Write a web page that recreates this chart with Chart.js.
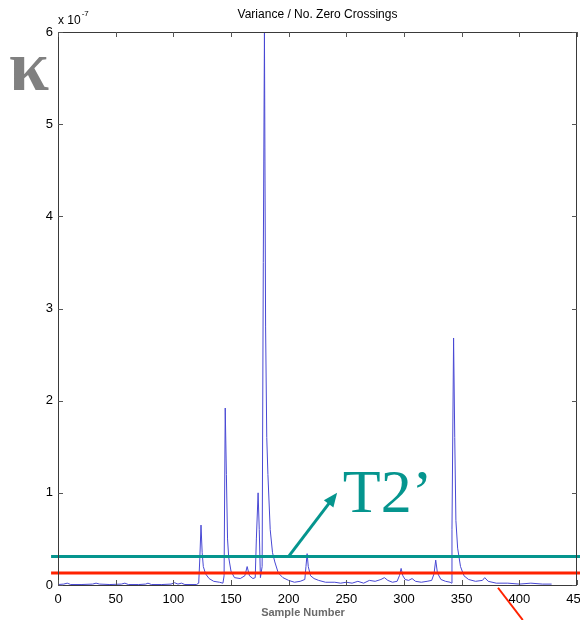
<!DOCTYPE html>
<html>
<head>
<meta charset="utf-8">
<script src="https://cdn.jsdelivr.net/npm/chart.js@4"></script>
<style>
  html, body { margin: 0; padding: 0; background: #fff; }
  #wrap { width: 580px; height: 620px; position: relative; }
</style>
</head>
<body>
<div id="wrap"><canvas id="chart"></canvas></div>
<script>
// sample number / variance-per-zero-crossing (x 1e-7)
const sampleNo = [0, 5, 8, 11, 20, 30, 33, 36, 45, 55, 58, 61, 70, 76, 78, 81, 90, 98, 101, 104, 107, 110, 120,
    122, 123, 124, 125, 126, 128, 131, 135, 140, 143, 144, 145, 146, 147, 148, 150, 153, 158, 162, 164, 166, 169,
    171, 172, 173.5, 174.5, 175.5, 177, 178, 179, 180, 181, 182, 184, 186, 188, 191, 195, 200, 205, 210, 214, 215,
    216, 217, 219, 222, 226, 232, 240, 245, 250, 255, 260, 265, 270, 275, 280, 283, 286, 290, 294, 296, 297.5, 299,
    301, 304, 307, 310, 315, 320, 324, 326, 327.5, 329, 332, 336, 340, 341.3, 341.6, 343, 344, 345, 346.5, 349,
    352, 356, 362, 368, 370, 373, 380, 390, 400, 410, 420, 428];
const variance = [0.005, 0.01, 0.02, 0.005, 0.005, 0.01, 0.02, 0.01, 0.005, 0.01, 0.02, 0.005, 0.005, 0.01, 0.02,
    0.005, 0.005, 0.01, 0.025, 0.01, 0.02, 0.005, 0.005,
    0.02, 0.3, 0.65, 0.35, 0.2, 0.12, 0.07, 0.04, 0.03, 0.02, 0.1, 1.92, 1.2, 0.5, 0.3, 0.15, 0.08, 0.07, 0.1, 0.2,
    0.1, 0.07, 0.08, 0.5, 1.0, 0.6, 0.08, 0.2, 3.5, 6.0, 2.8, 1.6, 1.2, 0.6, 0.35, 0.25, 0.13, 0.08, 0.05, 0.03,
    0.04, 0.06, 0.2, 0.34, 0.2, 0.1, 0.07, 0.05, 0.03, 0.03, 0.02, 0.03, 0.02, 0.04, 0.02, 0.05, 0.04, 0.06, 0.08,
    0.05, 0.03, 0.04, 0.1, 0.18, 0.1, 0.06, 0.05, 0.07, 0.04, 0.03, 0.04, 0.05, 0.12, 0.27, 0.13, 0.06, 0.04,
    0.03, 0.02, 0.6, 2.68, 1.6, 0.7, 0.4, 0.2, 0.1, 0.06, 0.04, 0.05, 0.08, 0.04, 0.02, 0.02, 0.01, 0.02, 0.01, 0.01];

const xTicks = [0, 50, 100, 150, 200, 250, 300, 350, 400, 450];
const yTicks = [0, 1, 2, 3, 4, 5, 6];

// threshold levels (same units) and their drawn span in samples
const t2Level = 0.31;
const lowLevel = 0.13;
const thresholdSpan = [-6, 455];

// annotation anchors in data units
const arrowFrom = [200, 0.31];
const arrowTo = [242, 1.0];
const t2Anchor = [247, 0.79];
const slashFrom = [381.5, -0.03];
const slashTo = [403, -0.38];

const TEAL = '#05958e';
const RED = '#ff2200';

const overlay = {
    id: 'overlay',
    afterDraw(chart) {
        const { ctx, chartArea: a, scales: { x, y } } = chart;
        ctx.save();

        // axes box
        ctx.strokeStyle = '#3a3a3a';
        ctx.lineWidth = 1;
        ctx.strokeRect(a.left + 0.5, a.top + 0.5, a.right - a.left - 1, a.bottom - a.top);

        // inward ticks, matlab style
        ctx.strokeStyle = '#555';
        ctx.beginPath();
        xTicks.forEach(v => {
            const px = Math.round(x.getPixelForValue(v)) + 0.5;
            ctx.moveTo(px, a.bottom); ctx.lineTo(px, a.bottom - 5);
            ctx.moveTo(px, a.top); ctx.lineTo(px, a.top + 5);
        });
        yTicks.forEach(v => {
            const py = Math.round(y.getPixelForValue(v)) + 0.5;
            ctx.moveTo(a.left, py); ctx.lineTo(a.left + 5, py);
            ctx.moveTo(a.right, py); ctx.lineTo(a.right - 5, py);
        });
        ctx.stroke();

        // title
        ctx.fillStyle = '#000';
        ctx.font = '12px "Liberation Sans", Arial, sans-serif';
        ctx.textAlign = 'center';
        ctx.textBaseline = 'middle';
        ctx.fillText('Variance / No. Zero Crossings', (a.left + a.right) / 2, 15);

        // exponent
        ctx.textAlign = 'left';
        ctx.textBaseline = 'alphabetic';
        ctx.fillText('x 10', a.left, 24);
        const w = ctx.measureText('x 10').width;
        ctx.font = '8px "Liberation Sans", Arial, sans-serif';
        ctx.fillText('-7', a.left + w + 1, 16);

        // x label, blurry grey like the scan
        ctx.save();
        ctx.filter = 'blur(0.7px)';
        ctx.fillStyle = '#6a6a6a';
        ctx.font = 'bold 11px "Liberation Sans", Arial, sans-serif';
        ctx.textAlign = 'center';
        ctx.textBaseline = 'middle';
        ctx.fillText('Sample Number', 303, 613);
        ctx.restore();

        // kappa symbol
        ctx.fillStyle = '#808080';
        ctx.font = 'bold 72px "Liberation Serif", "DejaVu Serif", serif';
        ctx.textAlign = 'left';
        ctx.textBaseline = 'alphabetic';
        ctx.fillText('κ', 9, 90);

        // T2' label
        ctx.fillStyle = TEAL;
        ctx.font = '62px "Liberation Serif", "DejaVu Serif", serif';
        ctx.fillText('T2\u2019', x.getPixelForValue(t2Anchor[0]), y.getPixelForValue(t2Anchor[1]));

        // arrow
        const x0 = x.getPixelForValue(arrowFrom[0]), y0 = y.getPixelForValue(arrowFrom[1]);
        const x1 = x.getPixelForValue(arrowTo[0]), y1 = y.getPixelForValue(arrowTo[1]);
        const ang = Math.atan2(y1 - y0, x1 - x0);
        ctx.strokeStyle = TEAL;
        ctx.lineWidth = 3;
        ctx.beginPath();
        ctx.moveTo(x0, y0);
        ctx.lineTo(x1 - 8 * Math.cos(ang), y1 - 8 * Math.sin(ang));
        ctx.stroke();
        ctx.beginPath();
        ctx.moveTo(x1, y1);
        ctx.lineTo(x1 - 14 * Math.cos(ang) + 6 * Math.sin(ang), y1 - 14 * Math.sin(ang) - 6 * Math.cos(ang));
        ctx.lineTo(x1 - 14 * Math.cos(ang) - 6 * Math.sin(ang), y1 - 14 * Math.sin(ang) + 6 * Math.cos(ang));
        ctx.closePath();
        ctx.fillStyle = TEAL;
        ctx.fill();

        // red slash below the axis
        ctx.strokeStyle = RED;
        ctx.lineWidth = 2;
        ctx.beginPath();
        ctx.moveTo(x.getPixelForValue(slashFrom[0]), y.getPixelForValue(slashFrom[1]));
        ctx.lineTo(x.getPixelForValue(slashTo[0]), y.getPixelForValue(slashTo[1]));
        ctx.stroke();

        ctx.restore();
    }
};

function fixScale(size, key) {
    return scale => {
        scale[key] = size;
        scale.paddingLeft = scale.paddingRight = scale.paddingTop = scale.paddingBottom = 0;
    };
}

new Chart(document.getElementById('chart'), {
    type: 'scatter',
    data: {
        datasets: [
            {
                data: thresholdSpan.map(v => ({ x: v, y: t2Level })),
                showLine: true, borderColor: TEAL, borderWidth: 3, pointRadius: 0, clip: false
            },
            {
                data: thresholdSpan.map(v => ({ x: v, y: lowLevel })),
                showLine: true, borderColor: RED, borderWidth: 3, pointRadius: 0, clip: false
            },
            {
                data: sampleNo.map((s, i) => ({ x: s, y: variance[i] })),
                showLine: true, borderColor: '#4848d4', borderWidth: 1, pointRadius: 0, tension: 0
            }
        ]
    },
    options: {
        responsive: true,
        maintainAspectRatio: false,
        animation: false,
        events: [],
        layout: { padding: { top: 32, right: 3, left: 0, bottom: 0 } },
        plugins: { legend: { display: false }, tooltip: { enabled: false } },
        scales: {
            x: {
                type: 'linear', min: 0, max: 450,
                afterFit: fixScale(35, 'height'),
                afterBuildTicks: s => { s.ticks = xTicks.map(v => ({ value: v })); },
                grid: { display: false, drawTicks: false },
                border: { display: false },
                ticks: { color: '#000', padding: 7, maxRotation: 0, autoSkip: false,
                    font: { family: '"Liberation Sans", Arial, sans-serif', size: 13 } }
            },
            y: {
                type: 'linear', min: 0, max: 6,
                afterFit: fixScale(58, 'width'),
                afterBuildTicks: s => { s.ticks = yTicks.map(v => ({ value: v })); },
                grid: { display: false, drawTicks: false },
                border: { display: false },
                ticks: { color: '#000', padding: 5,
                    font: { family: '"Liberation Sans", Arial, sans-serif', size: 13 } }
            }
        }
    },
    plugins: [overlay]
});
</script>
</body>
</html>
